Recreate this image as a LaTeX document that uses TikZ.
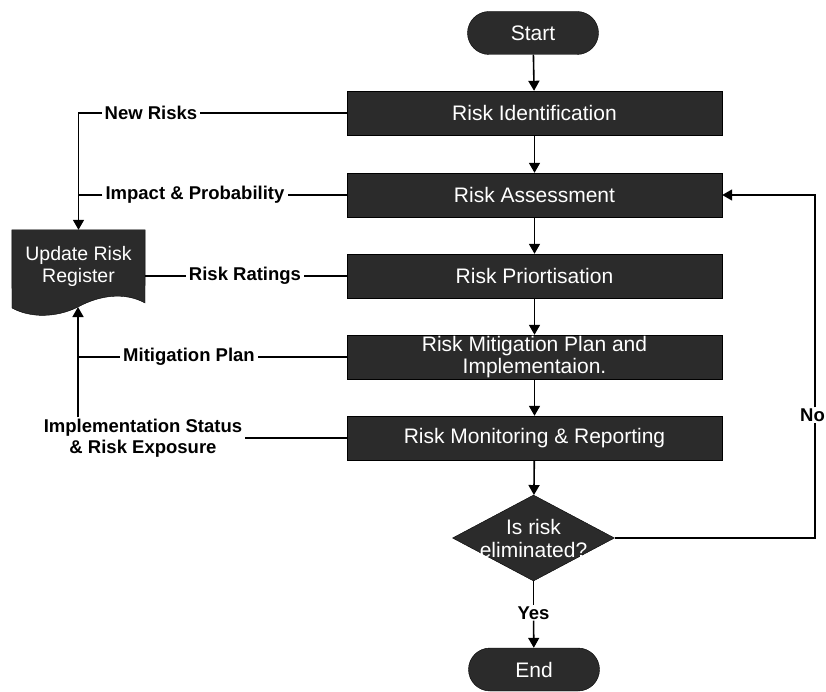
\documentclass[tikz,border=0pt]{standalone}
\usepackage{fontspec}
\setmainfont{Liberation Sans}
\usetikzlibrary{shapes.geometric,arrows.meta,backgrounds}
\definecolor{boxgray}{HTML}{2B2B2B}

\begin{document}
\begin{tikzpicture}[x=1pt,y=-1pt,>={Triangle[length=10pt,width=11pt]},
  stepbox/.style={draw=black,fill=boxgray,text=white,minimum width=375pt,minimum height=44pt,
    inner sep=0pt,align=center,font=\fontsize{21}{22}\selectfont},
  terminal/.style={stepbox,rounded corners=21.5pt,minimum width=131pt,minimum height=43pt},
  decision/.style={diamond,draw=black,fill=boxgray,minimum width=162pt,minimum height=86pt,inner sep=0pt},
  dtext/.style={text=white,align=center,inner sep=0pt,font=\fontsize{21}{23}\selectfont},
  regtext/.style={text=white,align=center,minimum width=133pt,minimum height=72pt,inner sep=0pt,
    font=\fontsize{19.5}{22}\selectfont},
  flowlabel/.style={inner xsep=3pt,inner ysep=1pt,align=center,font=\bfseries\fontsize{18.5}{21.5}\selectfont},
  conn/.style={line width=1.6pt}]

  \useasboundingbox (0,0) rectangle (826,692);

  % main column
  \node[terminal] (start) at (533,33) {Start};
  \node[stepbox] (iden) at (534.5,113) {Risk Identification};
  \node[stepbox] (asse) at (534.5,195) {Risk Assessment};
  \node[stepbox] (prio) at (534.5,276) {Risk Priortisation};
  \node[stepbox] (miti) at (534.5,357) {Risk Mitigation Plan and\\Implementaion.};
  \node[stepbox] (moni) at (534.5,438) {Risk Monitoring \& Reporting};
  \node[decision,label={[dtext]center:{Is risk\\eliminated?}}] (elim) at (533.5,538) {};
  \node[flowlabel] (yes) at (533.5,613) {Yes};
  \node[terminal] (end) at (534,669.5) {End};
  \node[flowlabel,fill=white,inner xsep=1pt] (nolab) at (812.5,415) {No};

  % register
  \node[regtext] (reg) at (78.5,266) {Update Risk\\Register};
  \coordinate (regwave) at (78,307);
  \begin{pgfonlayer}{background}
    \filldraw[draw=black,fill=boxgray] (reg.north west) -- (reg.north east) -- (145,303)
      .. controls (125,292) and (100,295) .. (78,307)
      .. controls (56,318) and (30,318) .. (12,308) -- cycle;
  \end{pgfonlayer}

  % side labels
  \node[flowlabel] (lnew) at (151,113) {New Risks};
  \node[flowlabel] (limp) at (195,195) {Impact \& Probability};
  \node[flowlabel] (lrat) at (245,276) {Risk Ratings};
  \node[flowlabel] (lmit) at (189,357) {Mitigation Plan};
  \node[flowlabel] (lexp) at (143,438) {Implementation Status\\\& Risk Exposure};

  \draw[->,conn] (start) -- (iden);
  \draw[->,conn] (iden) -- (asse);
  \draw[->,conn] (asse) -- (prio);
  \draw[->,conn] (prio) -- (miti);
  \draw[->,conn] (miti) -- (moni);
  \draw[->,conn] (moni) -- (elim);
  \draw[conn] (elim) -- (yes);
  \draw[->,conn] (yes) -- (end);

  \draw[conn] (elim.east) -- (elim.east -| 815,0) -- (nolab.south -| 815,0);
  \draw[->,conn] (nolab.north -| 815,0) -- (asse.east -| 815,0) -- (asse.east);

  \draw[conn] (iden.west) -- (lnew.east);
  \draw[->,conn] (lnew.west) -- (lnew.west -| reg) -- (reg.north);
  \draw[conn] (asse.west) -- (limp.east);
  \draw[conn] (limp.west) -- (limp.west -| reg);
  \draw[conn] (prio.west) -- (lrat.east);
  \draw[conn] (lrat.west) -- (lrat.west -| reg.east);
  \draw[conn] (miti.west) -- (lmit.east);
  \draw[conn] (lmit.west) -- (lmit.west -| reg);
  \draw[conn] (moni.west) -- (lexp.east);
  \draw[->,conn] (lexp.north -| regwave) -- (regwave);

\end{tikzpicture}
\end{document}
